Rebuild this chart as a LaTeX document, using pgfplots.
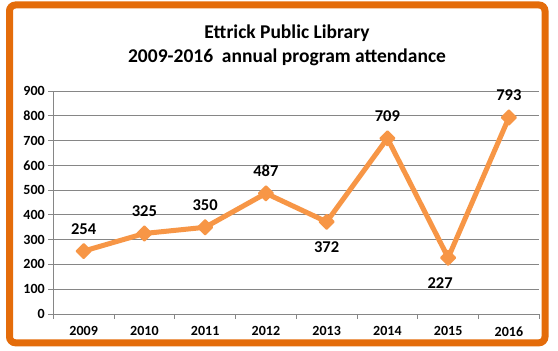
\documentclass[border=0pt]{standalone}
\usepackage{fontspec}
\setmainfont{Carlito}
\usepackage{pgfplots}
\usepackage{pgfplotstable}
\pgfplotsset{compat=1.18}
\definecolor{frameorange}{RGB}{228,108,10}
\definecolor{lineorange}{RGB}{247,150,70}
\definecolor{gridgray}{RGB}{134,134,134}
\pgfplotstableread{
x y yoff xoff
0 254 22 0
1 325 22 0
2 350 22 0
3 487 22 0
4 372 -25 0
5 709 22 0
6 227 -25 -8
7 793 22 0
}\attendance
\begin{document}
\begin{tikzpicture}[x=1pt,y=1pt]
\useasboundingbox (0,0) rectangle (558,351);
\fill[white] (0,0) rectangle (558,351);
\draw[frameorange, line width=7pt, rounded corners=6pt, fill=white] (9.5,346) rectangle (545,8.2);
\node[font=\bfseries\fontsize{19.5}{22}\selectfont, anchor=base] at (287,312.3) {Ettrick Public Library};
\node[font=\bfseries\fontsize{19.5}{22}\selectfont, anchor=base] at (287,288.3) {2009-2016\ \ annual program attendance};
\begin{axis}[
  at={(53.3pt,37pt)}, anchor=south west,
  scale only axis, width=486pt, height=223pt,
  xmin=-0.5, xmax=7.5, ymin=0, ymax=900,
  ytick={0,100,...,900},
  xtick={0,...,7},
  xticklabels={2009,2010,2011,2012,2013,2014,2015,2016},
  minor xtick={-0.5,0.5,...,7.5},
  axis x line*=bottom, axis y line*=left,
  axis line style={-, gridgray, line width=0.8pt},
  ymajorgrids, grid style={gridgray, line width=0.8pt},
  tick align=outside,
  major tick length=5pt, minor tick length=5pt,
  major x tick style={draw=none},
  minor x tick style={gridgray, line width=0.8pt},
  major y tick style={gridgray, line width=0.8pt},
  /pgf/number format/assume math mode=true,
  tick label style={font=\bfseries\fontsize{14}{16}\selectfont, black},
  xticklabel style={yshift=-4pt},
  clip=false,
]
\addplot[lineorange, line width=5pt, line join=round,
  mark=square*, mark size=5pt,
  mark options={rotate=45, fill=lineorange, draw=lineorange, line width=2pt, line join=round},
  point meta=y,
  visualization depends on={\thisrow{yoff} \as \myyoff},
  visualization depends on={\thisrow{xoff} \as \myxoff},
  nodes near coords={\pgfmathprintnumber{\pgfplotspointmeta}},
  every node near coord/.append style={anchor=center, yshift=\myyoff pt, xshift=\myxoff pt, font=\bfseries\fontsize{16.5}{18}\selectfont, text=black, /pgf/number format/assume math mode=true},
] table[x=x, y=y] {\attendance};
\end{axis}
\end{tikzpicture}
\end{document}
